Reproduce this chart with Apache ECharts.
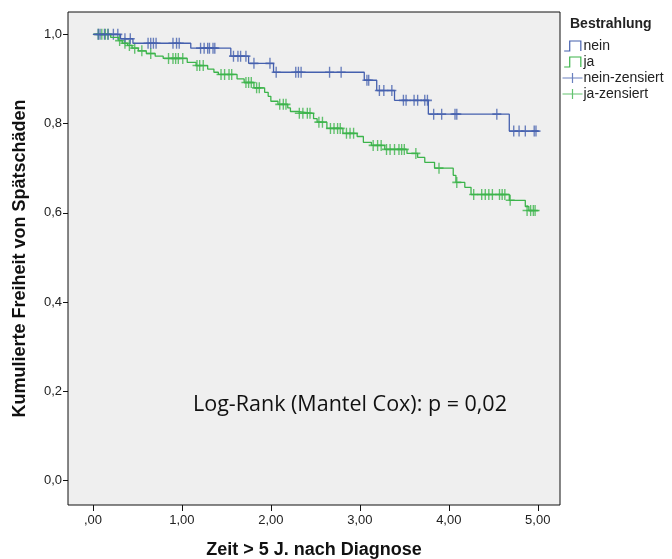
<!DOCTYPE html>
<html>
<head>
<meta charset="utf-8">
<script src="https://cdn.jsdelivr.net/npm/echarts@6/dist/echarts.min.js"></script>
<style>
  html, body { margin: 0; padding: 0; background: #fff; }
  #main { width: 672px; height: 559px; }
</style>
</head>
<body>
<div id="main"></div>
<script>
// Kaplan-Meier Stufen (Zeit, kumulierte Freiheit)
var neinTime = [0, 0.31, 0.45, 1.10, 1.55, 1.75, 2.03, 3.05, 3.19, 3.39, 3.77, 4.68, 5.01];
var neinSurv = [1.0, 0.990, 0.980, 0.969, 0.951, 0.935, 0.915, 0.897, 0.874, 0.852, 0.821, 0.783, 0.783];

var jaTime = [0, 0.20, 0.29, 0.33, 0.39, 0.44, 0.51, 0.60, 0.70, 0.79, 1.06, 1.16, 1.29, 1.36, 1.41,
  1.62, 1.70, 1.81, 1.93, 1.97, 2.00, 2.08, 2.19, 2.22, 2.30, 2.48, 2.52, 2.63, 2.81, 2.97, 3.04,
  3.13, 3.28, 3.53, 3.65, 3.73, 3.84, 4.05, 4.08, 4.18, 4.25, 4.68, 4.86, 4.90, 5.01];
var jaSurv = [1.0, 0.993, 0.986, 0.980, 0.975, 0.969, 0.963, 0.957, 0.951, 0.946, 0.937, 0.930, 0.922, 0.915, 0.910,
  0.900, 0.892, 0.880, 0.870, 0.861, 0.850, 0.843, 0.835, 0.827, 0.823, 0.811, 0.803, 0.789, 0.778, 0.771, 0.758,
  0.751, 0.742, 0.733, 0.724, 0.713, 0.700, 0.684, 0.668, 0.657, 0.641, 0.628, 0.614, 0.605, 0.605];

// zensierte Fälle
var neinCensTime = [0.06, 0.08, 0.13, 0.17, 0.23, 0.28, 0.36, 0.42, 0.62, 0.65, 0.68, 0.71, 0.90, 0.94, 0.97,
  1.21, 1.25, 1.29, 1.31, 1.35, 1.37, 1.58, 1.63, 1.66, 1.72, 1.81, 1.99, 2.06, 2.28, 2.31, 2.34, 2.66, 2.79,
  3.08, 3.10, 3.22, 3.27, 3.36, 3.49, 3.52, 3.61, 3.65, 3.73, 3.76, 3.83, 3.92, 4.07, 4.09, 4.54,
  4.73, 4.79, 4.86, 4.96, 4.98];
var neinCensSurv = [1.0, 1.0, 1.0, 1.0, 1.0, 1.0, 0.990, 0.990, 0.980, 0.980, 0.980, 0.980, 0.980, 0.980, 0.980,
  0.969, 0.969, 0.969, 0.969, 0.969, 0.969, 0.951, 0.951, 0.951, 0.951, 0.935, 0.935, 0.915, 0.915, 0.915, 0.915, 0.915, 0.915,
  0.897, 0.897, 0.874, 0.874, 0.874, 0.852, 0.852, 0.852, 0.852, 0.852, 0.852, 0.821, 0.821, 0.821, 0.821, 0.821,
  0.783, 0.783, 0.783, 0.783, 0.783];

var jaCensTime = [0.06, 0.10, 0.14, 0.17, 0.30, 0.36, 0.41, 0.47, 0.55, 0.65, 0.85, 0.90, 0.93, 0.96, 1.01,
  1.17, 1.20, 1.24, 1.44, 1.48, 1.53, 1.56, 1.72, 1.75, 1.78, 1.84, 1.87, 2.10, 2.14, 2.17,
  2.32, 2.36, 2.41, 2.44, 2.54, 2.58, 2.67, 2.71, 2.75, 2.78, 2.85, 2.89, 2.93,
  3.15, 3.20, 3.24, 3.30, 3.34, 3.39, 3.44, 3.47, 3.50, 3.63, 3.89, 4.09,
  4.28, 4.37, 4.41, 4.45, 4.49, 4.57, 4.60, 4.63, 4.69, 4.88, 4.92, 4.95, 4.97];
var jaCensSurv = [1.0, 1.0, 1.0, 1.0, 0.986, 0.980, 0.975, 0.969, 0.963, 0.957, 0.946, 0.946, 0.946, 0.946, 0.946,
  0.930, 0.930, 0.930, 0.910, 0.910, 0.910, 0.910, 0.892, 0.892, 0.892, 0.880, 0.880, 0.843, 0.843, 0.843,
  0.823, 0.823, 0.823, 0.823, 0.803, 0.803, 0.789, 0.789, 0.789, 0.789, 0.778, 0.778, 0.778,
  0.751, 0.751, 0.751, 0.742, 0.742, 0.742, 0.742, 0.742, 0.742, 0.733, 0.700, 0.668,
  0.641, 0.641, 0.641, 0.641, 0.641, 0.641, 0.641, 0.641, 0.628, 0.605, 0.605, 0.605, 0.605];

var xTicks = [0, 1, 2, 3, 4, 5];
var yTicks = [0, 0.2, 0.4, 0.6, 0.8, 1.0];

var blue = '#4560ae';
var green = '#3cb44b';
var font = "'Liberation Sans Narrow', 'Liberation Sans', Arial, sans-serif";

function zip(a, b) {
  var out = [];
  for (var i = 0; i < a.length; i++) out.push([a[i], b[i]]);
  return out;
}

var myChart = echarts.init(document.getElementById('main'));

var plusPath = 'path://M0,5L10,5M5,0L5,10';
var plusLegend = 'path://M0,5L20,5M10,0L10,10';
var stepPath = 'path://M0,10L5,10L5,1L15,1L15,10';

var option = {
  animation: false,
  backgroundColor: '#fff',
  title: {
    text: 'Bestrahlung',
    left: 570,
    top: 17,
    padding: 0,
    textStyle: { fontFamily: font, fontSize: 14, fontWeight: 'bold', color: '#222' }
  },
  legend: {
    orient: 'vertical',
    left: 560,
    top: 38,
    padding: 0,
    itemGap: 0,
    itemWidth: 20,
    itemHeight: 10,
    textStyle: { fontFamily: font, fontSize: 14, lineHeight: 16, color: '#222', padding: [0, 0, 0, -4] },
    data: [
      { name: 'nein', icon: stepPath, itemStyle: { color: 'none', borderColor: blue, borderWidth: 1.2 } },
      { name: 'ja', icon: stepPath, itemStyle: { color: 'none', borderColor: green, borderWidth: 1.2 } },
      { name: 'nein-zensiert', icon: plusLegend, itemStyle: { color: 'none', borderColor: blue, borderWidth: 1.2 } },
      { name: 'ja-zensiert', icon: plusLegend, itemStyle: { color: 'none', borderColor: green, borderWidth: 1.2 } }
    ]
  },
  grid: {
    left: 68,
    right: 112,
    top: 12,
    bottom: 54,
    outerBoundsMode: 'none',
    show: true,
    backgroundColor: '#efefef',
    borderColor: '#111',
    borderWidth: 1
  },
  xAxis: {
    type: 'value',
    min: -0.28,
    max: 5.25,
    name: 'Zeit > 5 J. nach Diagnose',
    nameLocation: 'middle',
    nameGap: 36,
    nameTextStyle: { fontFamily: font, fontSize: 18, fontWeight: 'bold', color: '#111' },
    axisLine: { show: false, onZero: false },
    splitLine: { show: false },
    axisTick: { show: true, length: 6, customValues: xTicks, lineStyle: { color: '#111' } },
    axisLabel: {
      customValues: xTicks,
      margin: 9,
      fontFamily: font,
      fontSize: 13,
      color: '#222',
      formatter: function (v) {
        var s = v.toFixed(2).replace('.', ',');
        return v === 0 ? s.substring(1) : s;
      }
    }
  },
  yAxis: {
    type: 'value',
    min: -0.055,
    max: 1.05,
    name: 'Kumulierte Freiheit von Spätschäden',
    nameLocation: 'middle',
    nameGap: 39,
    nameTextStyle: { fontFamily: font, fontSize: 18, fontWeight: 'bold', color: '#111' },
    axisLine: { show: false, onZero: false },
    splitLine: { show: false },
    axisTick: { show: true, length: 5, customValues: yTicks, lineStyle: { color: '#111' } },
    axisLabel: {
      customValues: yTicks,
      margin: 6,
      fontFamily: font,
      fontSize: 13,
      color: '#222',
      formatter: function (v) { return v.toFixed(1).replace('.', ','); }
    }
  },
  graphic: [
    {
      type: 'text',
      left: 193,
      top: 394,
      style: {
        text: 'Log-Rank (Mantel Cox): p = 0,02',
        font: "21.5px 'Open Sans', 'Liberation Sans', sans-serif",
        fill: '#111'
      }
    }
  ],
  series: [
    {
      name: 'ja',
      type: 'line',
      step: 'end',
      symbol: 'none',
      lineStyle: { color: green, width: 1.3 },
      itemStyle: { color: green },
      data: zip(jaTime, jaSurv)
    },
    {
      name: 'ja-zensiert',
      type: 'scatter',
      symbol: plusPath,
      symbolSize: [9, 11],
      itemStyle: { color: 'none', borderColor: green, borderWidth: 1.5 },
      data: zip(jaCensTime, jaCensSurv)
    },
    {
      name: 'nein',
      type: 'line',
      step: 'end',
      symbol: 'none',
      lineStyle: { color: blue, width: 1.3 },
      itemStyle: { color: blue },
      data: zip(neinTime, neinSurv)
    },
    {
      name: 'nein-zensiert',
      type: 'scatter',
      symbol: plusPath,
      symbolSize: [9, 11],
      itemStyle: { color: 'none', borderColor: blue, borderWidth: 1.5 },
      data: zip(neinCensTime, neinCensSurv)
    }
  ]
};

myChart.setOption(option);

window.onresize = function () {
  myChart.resize();
};
</script>
</body>
</html>
